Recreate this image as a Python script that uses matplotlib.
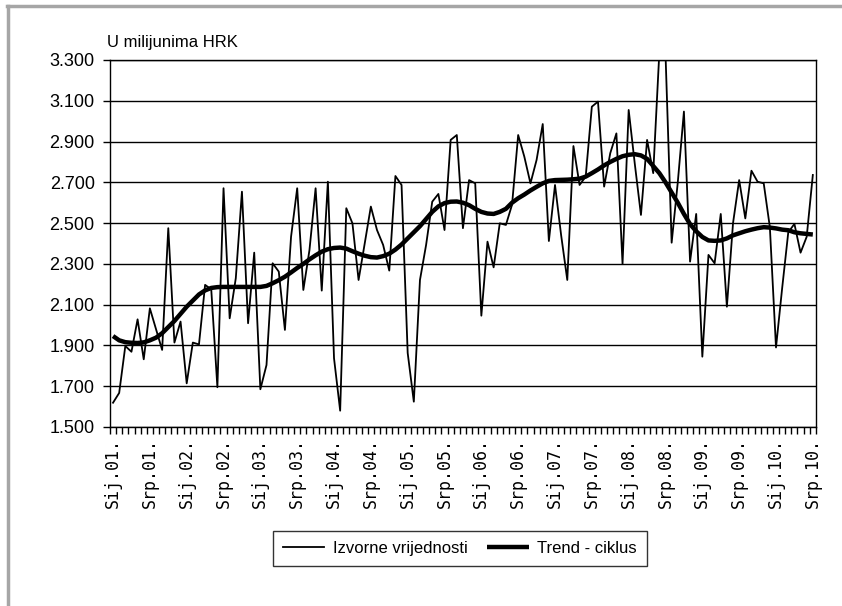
import matplotlib
matplotlib.use("Agg")
import matplotlib.pyplot as plt
from matplotlib.lines import Line2D
from matplotlib.ticker import FuncFormatter, FixedLocator

# mjesecni podaci sij.2001 - srp.2010, u milijunima HRK
izvorne = [1619, 1667, 1897, 1869, 2028, 1832, 2082, 1980, 1878, 2475,
           1914, 2017, 1714, 1914, 1905, 2197, 2175, 1695, 2671, 2033,
           2230, 2654, 2009, 2355, 1685, 1804, 2303, 2262, 1976, 2433,
           2671, 2172, 2368, 2671, 2169, 2703, 1837, 1580, 2573, 2499,
           2221, 2400, 2581, 2466, 2393, 2267, 2731, 2687, 1863, 1624,
           2221, 2393, 2605, 2643, 2466, 2908, 2932, 2475, 2711, 2695,
           2046, 2409, 2283, 2499, 2491, 2590, 2932, 2826, 2695, 2810,
           2986, 2412, 2687, 2440, 2221, 2878, 2687, 2728, 3071, 3096,
           2679, 2843, 2940, 2300, 3055, 2790, 2540, 2908, 2745, 3340,
           3330, 2404, 2700, 3047, 2311, 2545, 1845, 2344, 2303, 2545,
           2090, 2500, 2711, 2523, 2757, 2703, 2695, 2480, 1890, 2180,
           2455, 2496, 2355, 2433, 2736]

trend = [1946, 1925, 1916, 1913, 1912, 1915, 1925, 1938, 1960, 1990,
         2020, 2055, 2090, 2120, 2150, 2170, 2182, 2186, 2187, 2187,
         2187, 2187, 2187, 2187, 2187, 2192, 2205, 2220, 2237, 2258,
         2280, 2300, 2322, 2342, 2360, 2372, 2378, 2380, 2375, 2362,
         2350, 2340, 2333, 2331, 2338, 2350, 2370, 2395, 2425, 2455,
         2485, 2520, 2555, 2582, 2598, 2605, 2606, 2600, 2588, 2570,
         2555, 2547, 2545, 2555, 2570, 2600, 2622, 2640, 2660, 2678,
         2695, 2707, 2711, 2712, 2713, 2715, 2718, 2728, 2745, 2763,
         2783, 2800, 2815, 2828, 2835, 2838, 2832, 2815, 2780, 2745,
         2700, 2650, 2600, 2545, 2495, 2460, 2432, 2415, 2413, 2415,
         2425, 2440, 2450, 2460, 2468, 2475, 2480, 2478, 2474, 2468,
         2465, 2455, 2450, 2447, 2444]

godine = ["01", "02", "03", "04", "05", "06", "07", "08", "09", "10"]
oznake = []
for g in godine:
    oznake.append("Sij." + g + ".")
    oznake.append("Srp." + g + ".")

n = len(izvorne)
x = list(range(n))

fig = plt.figure(figsize=(8.42, 6.06), dpi=100)
ax = fig.add_axes([0.1306, 0.2954, 0.8384, 0.6056])

ax.plot(x, izvorne, color="black", lw=1.3, label="Izvorne vrijednosti")
ax.plot(x, trend, color="black", lw=3.2, label="Trend - ciklus",
        solid_capstyle="butt")

ax.set_xlim(-0.5, n - 0.5)
ax.set_ylim(1500, 3300)
ax.set_yticks(range(1500, 3301, 200))
ax.yaxis.set_major_formatter(FuncFormatter(lambda v, p: "{:,.0f}".format(v).replace(",", ".")))
ax.grid(axis="y", color="black", lw=1)
ax.set_axisbelow(True)

ax.xaxis.set_major_locator(FixedLocator(list(range(0, n, 6))))
ax.set_xticklabels(oznake, rotation=90, family="DejaVu Sans Mono", fontsize=12)
ax.xaxis.set_minor_locator(FixedLocator([i - 0.5 for i in range(n + 1)]))
ax.tick_params(axis="x", which="major", length=0, pad=8)
ax.tick_params(axis="x", which="minor", length=5, width=1, direction="out")
ax.tick_params(axis="y", length=5, width=1, direction="out", pad=6)
for t in ax.get_yticklabels():
    t.set_family(["Liberation Sans", "DejaVu Sans"])
    t.set_fontsize(13)

for s in ax.spines.values():
    s.set_color("black")
    s.set_linewidth(1)

fig.text(0.127, 0.922, "U milijunima HRK", fontsize=12,
         family=["Liberation Sans", "DejaVu Sans"])

leg = fig.legend(loc="center", bbox_to_anchor=(0.546, 0.0957), ncol=2,
                 frameon=True, fancybox=False, edgecolor="black",
                 handlelength=2.5, handletextpad=0.5, columnspacing=1.2,
                 borderpad=0.6,
                 prop={"family": ["Liberation Sans", "DejaVu Sans"], "size": 12})
leg.get_frame().set_linewidth(1)

# okvir grafikona
fig.add_artist(Line2D([0.0095, 0.0095], [0, 0.99], transform=fig.transFigure,
                      color="#a6a6a6", lw=2.5))
fig.add_artist(Line2D([0.008, 1], [0.99, 0.99], transform=fig.transFigure,
                      color="#a6a6a6", lw=2.5))

fig.savefig("out.png", dpi=100)
